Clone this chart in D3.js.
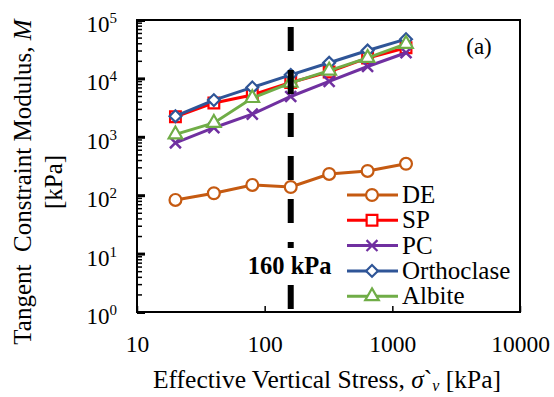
<!doctype html>
<html>
<head>
<meta charset="utf-8">
<script src="https://d3js.org/d3.v7.min.js"></script>
<style>
    body { margin: 0; background: #fff; }
</style>
</head>
<body>
<svg width="554" height="397"></svg>
<script>
    // data
    var stress = [20, 40, 80, 160, 320, 640, 1280];
    var deVals = [83, 108, 150, 138, 231, 260, 345];
    var spVals = [2200, 3800, 5200, 8500, 12900, 22400, 33500];
    var pcVals = [790, 1430, 2450, 4900, 8900, 16000, 27500];
    var orthoVals = [2250, 4250, 7000, 11500, 18500, 30000, 47000];
    var albiteVals = [1100, 1730, 4600, 8400, 13600, 22400, 39000];
    var seriesNames = ["DE", "SP", "PC", "Orthoclase", "Albite"];
    var xTicks = [10, 100, 1000, 10000];
    var yExps = [0, 1, 2, 3, 4, 5];
    var markStress = 160;

    var svg = d3.select("svg");
    var pL = 137, pR = 520, pT = 20, pB = 312;

    var x = d3.scaleLog().domain([10, 10000]).range([pL, pR]);
    var y = d3.scaleLog().domain([1, 1e5]).range([pB, pT]);

    var series = [
        { name: seriesNames[0], vals: deVals, color: "#c55a11", shape: "circle" },
        { name: seriesNames[1], vals: spVals, color: "#ff0000", shape: "square" },
        { name: seriesNames[2], vals: pcVals, color: "#7030a0", shape: "times" },
        { name: seriesNames[3], vals: orthoVals, color: "#2f5597", shape: "diamond" },
        { name: seriesNames[4], vals: albiteVals, color: "#70ad47", shape: "triangle" }
    ];

    function markerPath(shape) {
        if (shape == "circle") return d3.symbol().type(d3.symbolCircle).size(110)();
        if (shape == "square") return d3.symbol().type(d3.symbolSquare).size(115)();
        if (shape == "diamond") return d3.symbol().type(d3.symbolSquare).size(70)();
        if (shape == "triangle") return d3.symbol().type(d3.symbolTriangle).size(80)();
        return d3.symbol().type(d3.symbolTimes || d3.symbolCross).size(80)();
    }
    function markerRot(shape) { return shape == "diamond" ? " rotate(45)" : ""; }

    // y axis: majors + minors, ticks pointing inward
    var yMinor = [];
    yExps.slice(0, -1).forEach(function(e) {
        for (var k = 2; k < 10; k++) yMinor.push(k * Math.pow(10, e));
    });
    svg.append("g")
        .attr("transform", "translate(" + pL + ",0)")
        .call(d3.axisLeft(y).tickValues(yMinor).tickSize(-5).tickFormat(""))
        .call(function(g) { g.select(".domain").remove(); })
        .selectAll("line").attr("stroke", "#000").attr("stroke-width", 1.5);
    svg.append("g")
        .attr("transform", "translate(" + pL + ",0)")
        .call(d3.axisLeft(y).tickValues(yExps.map(function(e) { return Math.pow(10, e); })).tickSize(-8).tickFormat(""))
        .call(function(g) { g.select(".domain").remove(); })
        .selectAll("line").attr("stroke", "#000").attr("stroke-width", 3);

    var yLab = svg.append("g").selectAll("text")
        .data(yExps).enter().append("text")
        .attr("x", 117)
        .attr("y", function(e) { return y(Math.pow(10, e)) + 12; })
        .attr("text-anchor", "end")
        .attr("font-size", "23px");
    yLab.append("tspan").text("10");
    yLab.append("tspan").attr("dy", -9).attr("font-size", "15px").text(function(e) { return e; });

    // x axis
    svg.append("g")
        .attr("transform", "translate(0," + pB + ")")
        .call(d3.axisBottom(x).tickValues(xTicks).tickSize(-6).tickPadding(23)
            .tickFormat(function(d) { return d; }))
        .call(function(g) { g.select(".domain").remove(); })
        .call(function(g) {
            g.selectAll("line").attr("stroke", "#000").attr("stroke-width", 1.5);
            g.selectAll("text").attr("font-size", "23.5px").attr("fill", "#000");
        });

    // series
    series.forEach(function(s) {
        var pts = stress.map(function(v, i) { return [v, s.vals[i]]; });
        svg.append("path")
            .datum(pts)
            .attr("fill", "none")
            .attr("stroke", s.color)
            .attr("stroke-width", 3)
            .attr("d", d3.line().x(function(d) { return x(d[0]); }).y(function(d) { return y(d[1]); }));
        svg.append("g").selectAll("path")
            .data(pts).enter().append("path")
            .attr("d", markerPath(s.shape))
            .attr("transform", function(d) { return "translate(" + x(d[0]) + "," + y(d[1]) + ")" + markerRot(s.shape); })
            .attr("fill", s.shape == "times" ? "none" : "#fff")
            .attr("stroke", s.color)
            .attr("stroke-width", s.shape == "times" ? 2.5 : 2.2);
    });

    // 160 kPa dashed line
    svg.append("line")
        .attr("x1", x(markStress)).attr("x2", x(markStress))
        .attr("y1", 27).attr("y2", pB)
        .attr("stroke", "#000")
        .attr("stroke-width", 6)
        .attr("stroke-dasharray", "24,19");
    svg.append("rect")
        .attr("x", 244).attr("y", 248).attr("width", 88).attr("height", 36)
        .attr("fill", "#fff");
    svg.append("text")
        .attr("x", x(markStress) - 1).attr("y", 274)
        .attr("text-anchor", "middle")
        .attr("font-size", "24.5px")
        .attr("font-weight", "bold")
        .text("160 kPa");

    // frame
    svg.append("rect")
        .attr("x", pL).attr("y", pT)
        .attr("width", pR - pL).attr("height", pB - pT)
        .attr("fill", "none").attr("stroke", "#000").attr("stroke-width", 2);

    svg.append("text")
        .attr("x", 479).attr("y", 54)
        .attr("text-anchor", "middle")
        .attr("font-size", "23px")
        .text("(a)");

    // legend
    var leg = svg.append("g").selectAll("g")
        .data(series).enter().append("g")
        .attr("transform", function(d, i) { return "translate(347," + (195 + i * 25.3) + ")"; });
    leg.append("line")
        .attr("x1", 0).attr("x2", 51)
        .attr("stroke", function(d) { return d.color; })
        .attr("stroke-width", 3);
    leg.append("path")
        .attr("d", function(d) { return markerPath(d.shape); })
        .attr("transform", function(d) { return "translate(25,0)" + markerRot(d.shape); })
        .attr("fill", function(d) { return d.shape == "times" ? "none" : "#fff"; })
        .attr("stroke", function(d) { return d.color; })
        .attr("stroke-width", 2.2);
    leg.append("text")
        .attr("x", 55).attr("y", 8)
        .attr("font-size", "25px")
        .text(function(d) { return d.name; });

    // axis titles
    var xt = svg.append("text")
        .attr("x", 327).attr("y", 388)
        .attr("text-anchor", "middle")
        .attr("font-size", "25.5px");
    xt.append("tspan").text("Effective Vertical Stress, ");
    xt.append("tspan").attr("font-style", "italic").text("σ");
    xt.append("tspan").text("`");
    xt.append("tspan").attr("font-style", "italic").attr("font-size", "16px").attr("dy", 3).text("v");
    xt.append("tspan").attr("dy", -3).text(" [kPa]");

    var yt = svg.append("text")
        .attr("transform", "translate(31,182) rotate(-90)")
        .attr("text-anchor", "middle")
        .attr("font-size", "25px")
        .style("white-space", "pre");
    yt.append("tspan").text("Tangent  Constraint Modulus, ");
    yt.append("tspan").attr("font-style", "italic").text("M");
    svg.append("text")
        .attr("transform", "translate(62,182) rotate(-90)")
        .attr("text-anchor", "middle")
        .attr("font-size", "25px")
        .text("[kPa]");

    // Times-like face for every label
    svg.selectAll("text").style("font-family", "Liberation Serif").attr("fill", "#000");
</script>
</body>
</html>
